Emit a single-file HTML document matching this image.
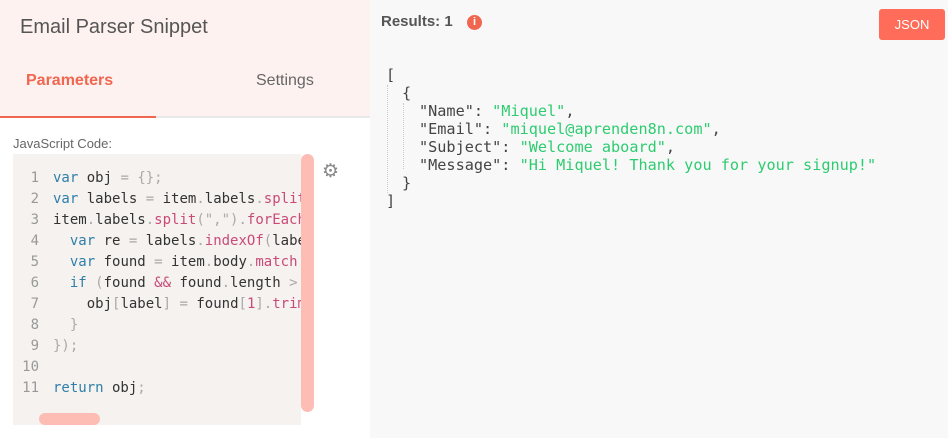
<!DOCTYPE html>
<html><head><style>
*{margin:0;padding:0;box-sizing:border-box}
body{width:948px;height:438px;overflow:hidden;background:#fff;font-family:"Liberation Sans",sans-serif;position:relative}
.a{position:absolute;white-space:pre}
#left{position:absolute;left:0;top:0;width:370px;height:438px;background:#fff}
#hdr{position:absolute;left:0;top:0;width:370px;height:116px;background:#fdf2ef}
#right{position:absolute;left:370px;top:0;width:578px;height:438px;background:#f8f8f8}
.code{font-family:"DejaVu Sans Mono",monospace;font-size:14px;line-height:21px}
.ln{color:#999;text-align:right;width:26px}
.k{color:#2f7fa8}.f{color:#c94a78}.p{color:#aaa}.t{color:#333}
.j{position:absolute;white-space:pre;font-family:"DejaVu Sans Mono",monospace;font-size:15.2px;line-height:18px;color:#444}
.s{color:#2ecc71}
</style></head><body>
<div id="left">
<div id="hdr"></div>
<div class="a" style="left:20px;top:16px;font-size:20px;color:#555">Email Parser Snippet</div>
<div class="a" style="left:26px;top:72px;font-size:16px;color:#f06650;font-weight:bold">Parameters</div>
<div class="a" style="left:256px;top:72px;font-size:16px;color:#666">Settings</div>
<div class="a" style="left:0;top:116px;width:370px;height:2px;background:#e8e8e8"></div>
<div class="a" style="left:0;top:116px;width:156px;height:2px;background:#f06650"></div>
<div class="a" style="left:13px;top:136px;font-size:13px;color:#666">JavaScript Code:</div>
<div class="a" style="left:13px;top:154px;width:288px;height:271px;background:#f5f2f0;overflow:hidden"></div>
<div class="a code" style="left:13px;top:168px;width:288px;height:230px;overflow:hidden"><div class="ln a" style="left:0;top:0">1
2
3
4
5
6
7
8
9
10
11</div><div class="a t" style="left:40px;top:0"><span class="k">var</span> obj <span class="p">=</span> <span class="p">{};</span>
<span class="k">var</span> labels <span class="p">=</span> item<span class="p">.</span>labels<span class="p">.</span><span class="f">split</span>
item<span class="p">.</span>labels<span class="p">.</span><span class="f">split</span><span class="p">(",").</span><span class="f">forEach</span>
  <span class="k">var</span> re <span class="p">=</span> labels<span class="p">.</span><span class="f">indexOf</span><span class="p">(</span>label
  <span class="k">var</span> found <span class="p">=</span> item<span class="p">.</span>body<span class="p">.</span><span class="f">match</span>
  <span class="k">if</span> <span class="p">(</span>found <span class="f">&amp;&amp;</span> found<span class="p">.</span>length <span class="p">&gt;</span>
    obj<span class="p">[</span>label<span class="p">]</span> <span class="p">=</span> found<span class="p">[</span><span class="f">1</span><span class="p">].</span><span class="f">trim</span>
  <span class="p">}</span>
<span class="p">});</span>

<span class="k">return</span> obj<span class="p">;</span></div></div>
<div class="a" style="left:301px;top:154px;width:13px;height:258px;background:#fdbdb5;border-radius:7px"></div>
<div class="a" style="left:39px;top:413px;width:61px;height:12px;background:#fdbdb5;border-radius:6px"></div>
<div class="a" style="left:322px;top:160px;font-size:19px;color:#888">⚙</div>
</div>
<div id="right">
<div class="a" style="left:11px;top:13px;font-size:15px;font-weight:bold;color:#555">Results: 1</div>
<div class="a" style="left:97px;top:15px;width:15px;height:15px;border-radius:50%;background:#f06650;color:#fff;font-size:11px;font-weight:bold;text-align:center;line-height:15px">i</div>
<div class="a" style="left:509px;top:9px;width:66px;height:31px;background:#ff6d5a;border-radius:3px;color:#fff;font-size:13px;text-align:center;line-height:31px">JSON</div>
<div class="a" style="left:17px;top:85px;width:0;height:108px;border-left:1px dotted #ccc"></div>
<div class="a" style="left:33px;top:103px;width:0;height:66px;border-left:1px dotted #ccc"></div>
<div class="j" style="left:16px;top:66px">[</div>
<div class="j" style="left:32px;top:84px">{</div>
<div class="j" style="left:49px;top:102px">"Name": <span class="s">"Miquel"</span>,</div>
<div class="j" style="left:49px;top:120px">"Email": <span class="s">"miquel@aprenden8n.com"</span>,</div>
<div class="j" style="left:49px;top:138px">"Subject": <span class="s">"Welcome aboard"</span>,</div>
<div class="j" style="left:49px;top:156px">"Message": <span class="s">"Hi Miquel! Thank you for your signup!"</span></div>
<div class="j" style="left:32px;top:174px">}</div>
<div class="j" style="left:16px;top:192px">]</div>
</div>
</body></html>
